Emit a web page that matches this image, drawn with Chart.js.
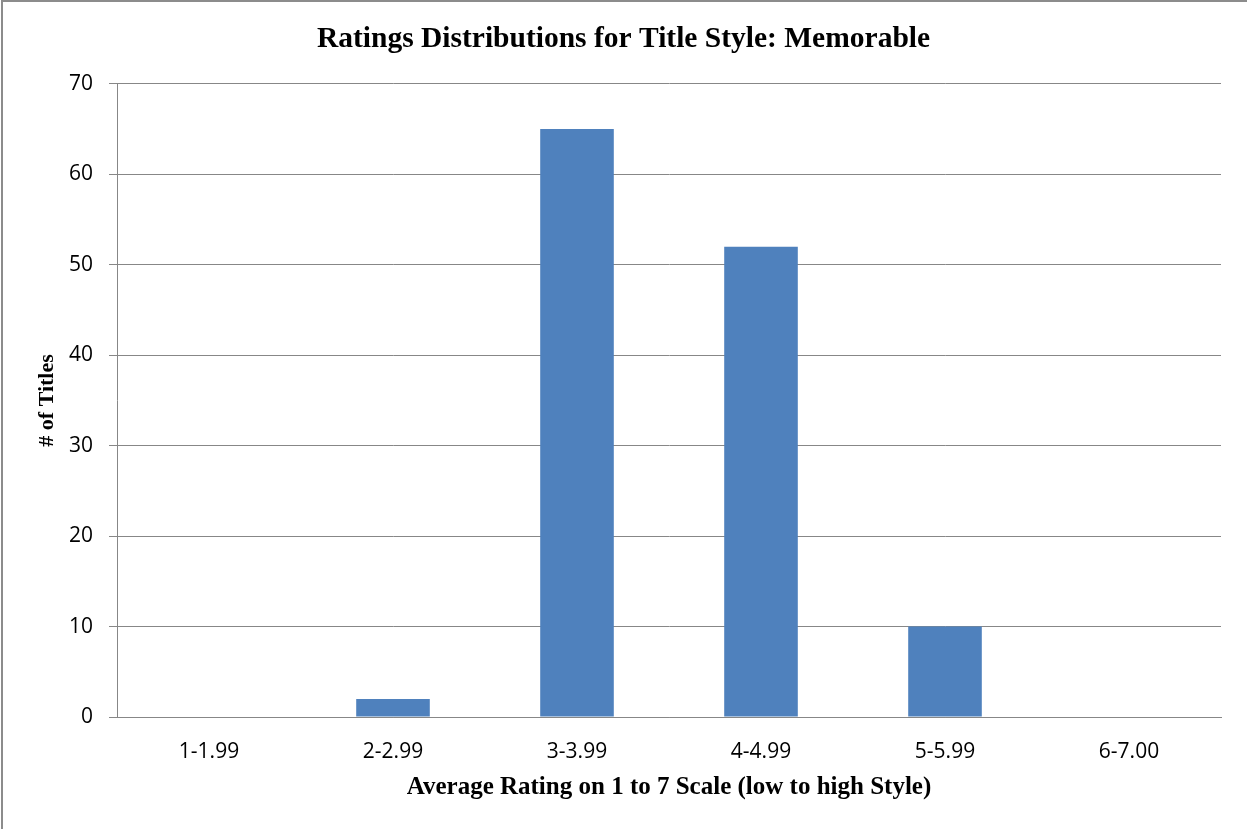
<!DOCTYPE html>
<html>
<head>
<meta charset="utf-8">
<script src="https://cdn.jsdelivr.net/npm/chart.js@4/dist/chart.umd.min.js"></script>
<style>
  html, body { margin: 0; padding: 0; background: #fff; overflow: hidden; }
  #wrap { position: relative; width: 1247px; height: 829px; }
  #frame {
    position: absolute; left: 1px; top: 0; width: 1300px; height: 900px;
    border-top: 2px solid #8c8c8c; border-left: 2px solid #8c8c8c;
    pointer-events: none;
  }
</style>
</head>
<body>
<div id="wrap">
  <canvas id="chart" width="1247" height="829"></canvas>
  <div id="frame"></div>
</div>
<script>
// data
const categories = ['1-1.99', '2-2.99', '3-3.99', '4-4.99', '5-5.99', '6-7.00'];
const titleCounts = [0, 2, 65, 52, 10, 0];
const yTicks = [0, 10, 20, 30, 40, 50, 60, 70];

const chartTitle = 'Ratings Distributions for Title Style: Memorable';
const xTitle = 'Average Rating on 1 to 7 Scale (low to high Style)';
const yTitle = '# of Titles';

const serif = '"Liberation Serif", "Times New Roman", serif';
const sans = '"Open Sans", "Liberation Sans", sans-serif';
const gridColor = '#878787';

const ctx = document.getElementById('chart').getContext('2d');
new Chart(ctx, {
  type: 'bar',
  data: {
    labels: categories,
    datasets: [{
      data: titleCounts,
      backgroundColor: '#4f81bd',
      barPercentage: 0.4,
      categoryPercentage: 1,
    }],
  },
  options: {
    responsive: false,
    animation: false,
    // equal side padding keeps the chart title centred on the whole picture
    layout: { padding: { left: 26, right: 26, top: 0, bottom: 0 } },
    plugins: {
      legend: { display: false },
      tooltip: { enabled: false },
      title: {
        display: true,
        text: chartTitle,
        color: '#000',
        font: { family: serif, size: 29.5, weight: 'bold' },
        padding: { top: 22, bottom: 26.5 },
      },
    },
    scales: {
      x: {
        grid: { display: false, drawTicks: false },
        border: { display: true, color: gridColor, width: 1 },
        ticks: { color: '#000', font: { family: sans, size: 21 }, padding: 22 },
        title: {
          display: true,
          text: xTitle,
          color: '#000',
          font: { family: serif, size: 25, weight: 'bold' },
          padding: { top: 0, bottom: 26 },
        },
        afterFit: s => { s.height = 112; },
      },
      y: {
        min: 0,
        max: 70,
        afterBuildTicks: s => { s.ticks = yTicks.map(v => ({ value: v })); },
        grid: { color: gridColor, lineWidth: 1, tickLength: 8 },
        border: { display: true, color: gridColor, width: 1 },
        ticks: { color: '#000', font: { family: sans, size: 21 }, padding: 16 },
        title: {
          display: true,
          text: yTitle,
          color: '#000',
          font: { family: serif, size: 22, weight: 'bold' },
          padding: { top: 8, bottom: 0 },
        },
        afterFit: s => { s.width = 91; },
      },
    },
  },
});
</script>
</body>
</html>
